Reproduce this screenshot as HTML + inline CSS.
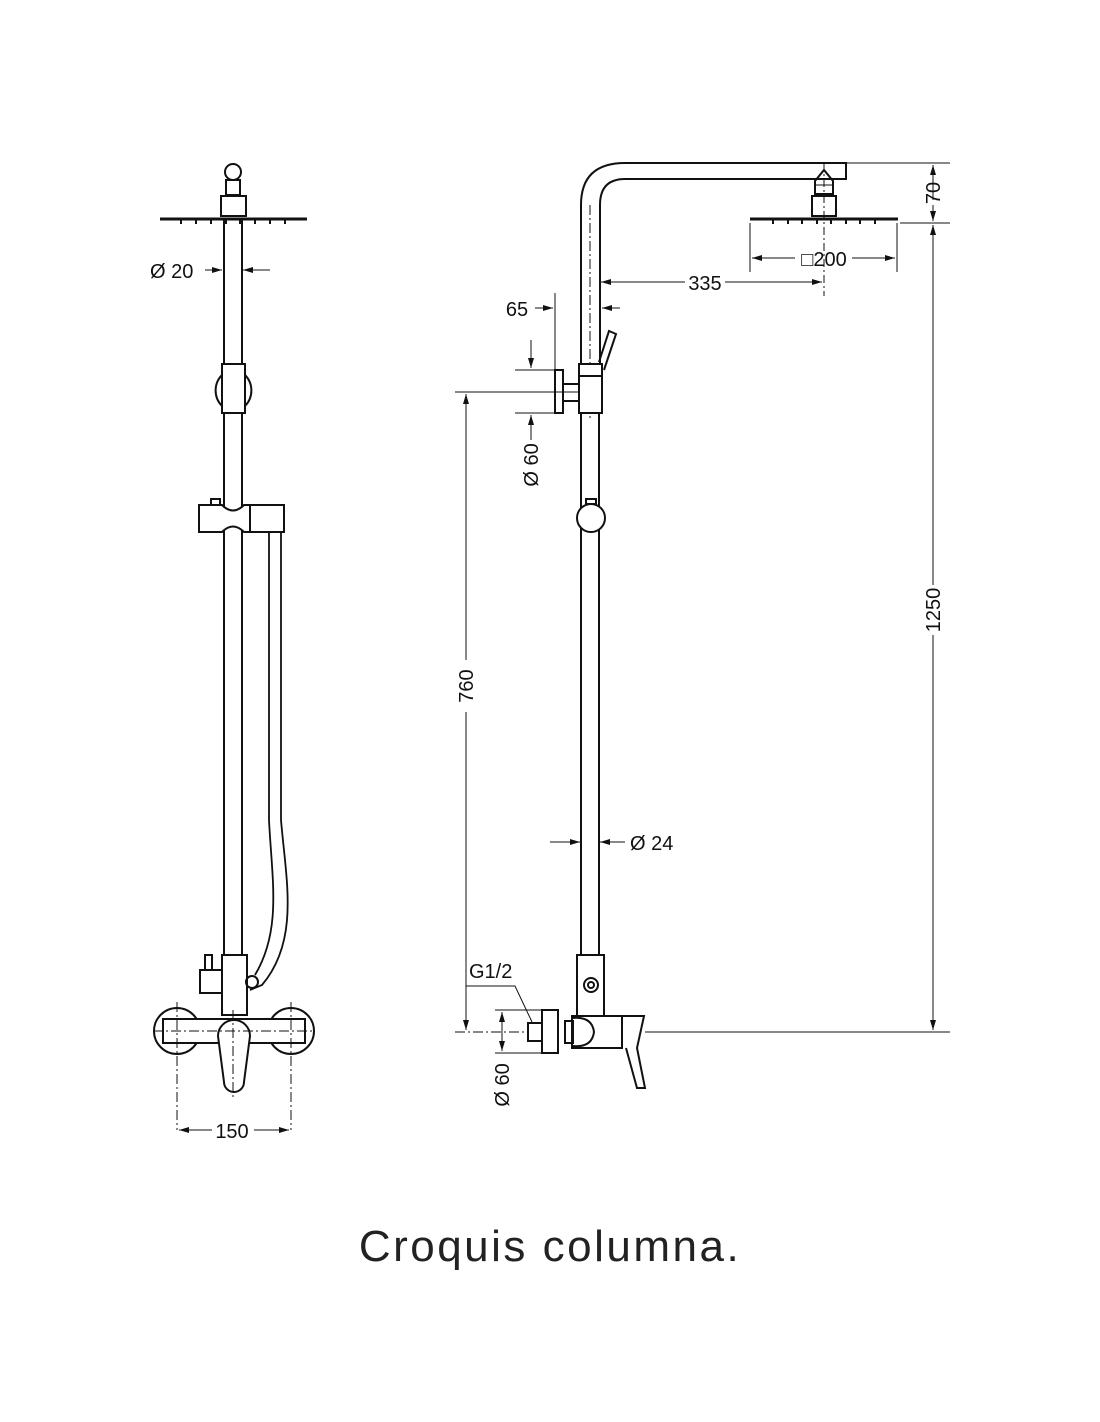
<!DOCTYPE html>
<html><head><meta charset="utf-8"><style>
html,body{margin:0;padding:0;background:#fff;}
svg{display:block}
text{font-family:"Liberation Sans",sans-serif;fill:#111}
</style></head><body>
<svg width="1100" height="1422" viewBox="0 0 1100 1422" xmlns="http://www.w3.org/2000/svg">
<defs>
<marker id="a" viewBox="0 0 10 6" refX="10" refY="3" markerWidth="10" markerHeight="6" orient="auto-start-reverse" markerUnits="userSpaceOnUse"><path d="M0,0L10,3L0,6z" fill="#111"/></marker>
</defs>
<g fill="none" stroke="#111" stroke-width="2">
<!-- LEFT VIEW -->
<circle cx="233" cy="172" r="8"/>
<rect x="226" y="180" width="14" height="15"/>
<rect x="221" y="196" width="25" height="20"/>
<line x1="160" y1="219" x2="307" y2="219" stroke-width="3"/>
<g stroke-width="2"><line x1="181" y1="220" x2="181" y2="224"/><line x1="196" y1="220" x2="196" y2="224"/><line x1="211" y1="220" x2="211" y2="224"/><line x1="226" y1="220" x2="226" y2="224"/><line x1="240" y1="220" x2="240" y2="224"/><line x1="255" y1="220" x2="255" y2="224"/><line x1="270" y1="220" x2="270" y2="224"/><line x1="285" y1="220" x2="285" y2="224"/></g>
<line x1="224" y1="220" x2="224" y2="1015"/>
<line x1="242" y1="220" x2="242" y2="1015"/>
<rect x="222" y="364" width="23" height="49" fill="#fff"/>
<path d="M222,375 A22,22 0 0 0 222,406"/><path d="M245,375 A22,22 0 0 1 245,406"/>
<path d="M199,505 H222 Q233,516 244,505 H250 V532 H244 Q233,521 222,532 H199 Z" fill="#fff"/>
<rect x="250" y="505" width="34" height="27" fill="#fff"/>
<rect x="211" y="499" width="9" height="6"/>
<path d="M269,532 V820 C272,880 282,930 255,975" stroke-width="1.8"/>
<path d="M281,532 V820 C286,880 300,940 262,985 L250,990" stroke-width="1.8"/>
<rect x="222" y="955" width="25" height="60" fill="#fff"/>
<rect x="200" y="970" width="22" height="23"/>
<rect x="205" y="955" width="7" height="15"/>
<circle cx="252" cy="982" r="6"/>
<circle cx="177" cy="1031" r="23"/>
<circle cx="291" cy="1031" r="23"/>
<rect x="163" y="1019" width="142" height="24" fill="#fff"/>
<path d="M218,1036 A16,16 0 1 1 250,1036 L244,1082 A10,10 0 0 1 224,1082 Z" fill="#fff"/>
<g stroke-width="1" stroke-dasharray="10,3,2,3"><line x1="153" y1="1031" x2="315" y2="1031"/><line x1="177" y1="1002" x2="177" y2="1130"/><line x1="291" y1="1002" x2="291" y2="1130"/><line x1="233" y1="1010" x2="233" y2="1098"/></g>
<g stroke-width="1"><line x1="205" y1="270" x2="222" y2="270" marker-end="url(#a)"/><line x1="270" y1="270" x2="243" y2="270" marker-end="url(#a)"/><line x1="179" y1="1130" x2="212" y2="1130" marker-start="url(#a)"/><line x1="254" y1="1130" x2="289" y2="1130" marker-end="url(#a)"/></g>

<!-- RIGHT VIEW -->
<path d="M581,364 V205 Q581,163 625,163 H846 V179 H625 Q600,179 600,205 V364"/>
<line x1="581" y1="413" x2="581" y2="955"/><line x1="599" y1="413" x2="599" y2="955"/>
<line x1="590" y1="205" x2="590" y2="420" stroke-width="1" stroke-dasharray="10,3,2,3"/>
<path d="M815,194 V181 L824,170 L833,181 V194 Z"/>
<line x1="815" y1="185" x2="833" y2="185" stroke-width="1"/>
<rect x="812" y="196" width="24" height="20"/>
<line x1="750" y1="219" x2="898" y2="219" stroke-width="3"/>
<g stroke-width="2"><line x1="773" y1="220" x2="773" y2="224"/><line x1="788" y1="220" x2="788" y2="224"/><line x1="802" y1="220" x2="802" y2="224"/><line x1="817" y1="220" x2="817" y2="224"/><line x1="831" y1="220" x2="831" y2="224"/><line x1="846" y1="220" x2="846" y2="224"/><line x1="860" y1="220" x2="860" y2="224"/><line x1="875" y1="220" x2="875" y2="224"/></g>
<line x1="824" y1="163" x2="824" y2="296" stroke-width="1" stroke-dasharray="8,3,2,3"/>
<rect x="579" y="364" width="23" height="49" fill="#fff"/>
<line x1="579" y1="376" x2="602" y2="376"/>
<rect x="563" y="384" width="16" height="17"/>
<rect x="555" y="370" width="8" height="43"/>
<path d="M599,362 L609,331 L616,334 L604,370"/>
<circle cx="591" cy="518" r="14" fill="#fff"/>
<rect x="586" y="499" width="10" height="5"/>
<rect x="577" y="955" width="27" height="62" fill="#fff"/>
<circle cx="591" cy="985" r="7"/><circle cx="591" cy="985" r="3"/>
<rect x="572" y="1016" width="50" height="32" fill="#fff"/>
<path d="M572,1018 Q592,1016 594,1032 Q592,1048 572,1046"/>
<rect x="565" y="1021" width="8" height="22"/>
<rect x="542" y="1010" width="16" height="43"/>
<rect x="528" y="1023" width="14" height="18"/>
<path d="M622,1016 L644,1016 L637,1048 L645,1088 L637,1088 L626,1048"/>
<g stroke-width="1">
<line x1="846" y1="163" x2="950" y2="163"/><line x1="900" y1="223" x2="950" y2="223"/>
<line x1="933" y1="200" x2="933" y2="165" marker-end="url(#a)"/><line x1="933" y1="205" x2="933" y2="221" marker-end="url(#a)"/>
<line x1="933" y1="585" x2="933" y2="225" marker-end="url(#a)"/><line x1="933" y1="635" x2="933" y2="1030" marker-end="url(#a)"/>
<line x1="645" y1="1032" x2="950" y2="1032"/>
<line x1="750" y1="223" x2="750" y2="272"/><line x1="897" y1="223" x2="897" y2="272"/>
<line x1="795" y1="258" x2="752" y2="258" marker-end="url(#a)"/><line x1="852" y1="258" x2="895" y2="258" marker-end="url(#a)"/>
<line x1="685" y1="282" x2="601" y2="282" marker-end="url(#a)"/><line x1="725" y1="282" x2="822" y2="282" marker-end="url(#a)"/>
<line x1="555" y1="293" x2="555" y2="370"/>
<line x1="535" y1="308" x2="553" y2="308" marker-end="url(#a)"/><line x1="620" y1="308" x2="602" y2="308" marker-end="url(#a)"/>
<line x1="515" y1="370" x2="555" y2="370"/><line x1="515" y1="413" x2="555" y2="413"/>
<line x1="531" y1="340" x2="531" y2="368" marker-end="url(#a)"/><line x1="531" y1="440" x2="531" y2="415" marker-end="url(#a)"/>
<line x1="455" y1="392" x2="578" y2="392"/>
<line x1="466" y1="660" x2="466" y2="394" marker-end="url(#a)"/><line x1="466" y1="712" x2="466" y2="1030" marker-end="url(#a)"/>
<line x1="455" y1="1032" x2="528" y2="1032" stroke-dasharray="10,3,2,3"/>
<line x1="550" y1="842" x2="580" y2="842" marker-end="url(#a)"/><line x1="625" y1="842" x2="600" y2="842" marker-end="url(#a)"/>
<polyline points="466,986 515,986 532,1022"/>
<line x1="495" y1="1010" x2="542" y2="1010"/><line x1="495" y1="1053" x2="542" y2="1053"/>
<line x1="502" y1="1012" x2="502" y2="1051" marker-start="url(#a)" marker-end="url(#a)"/>
</g>
</g>
<g font-size="20">
<text x="150" y="278">Ø 20</text>
<text x="232" y="1138" text-anchor="middle">150</text>
<text x="705" y="290" text-anchor="middle">335</text>
<text x="824" y="266" text-anchor="middle">□200</text>
<text x="517" y="316" text-anchor="middle">65</text>
<text x="630" y="850">Ø 24</text>
<text x="469" y="978">G1/2</text>
<text transform="translate(940,193) rotate(-90)" text-anchor="middle">70</text>
<text transform="translate(940,610) rotate(-90)" text-anchor="middle">1250</text>
<text transform="translate(473,686) rotate(-90)" text-anchor="middle">760</text>
<text transform="translate(538,465) rotate(-90)" text-anchor="middle">Ø 60</text>
<text transform="translate(509,1085) rotate(-90)" text-anchor="middle">Ø 60</text>
</g>
<text x="550" y="1261" text-anchor="middle" font-size="44" letter-spacing="2.5" style="fill:#222">Croquis columna.</text>
</svg>
</body></html>
